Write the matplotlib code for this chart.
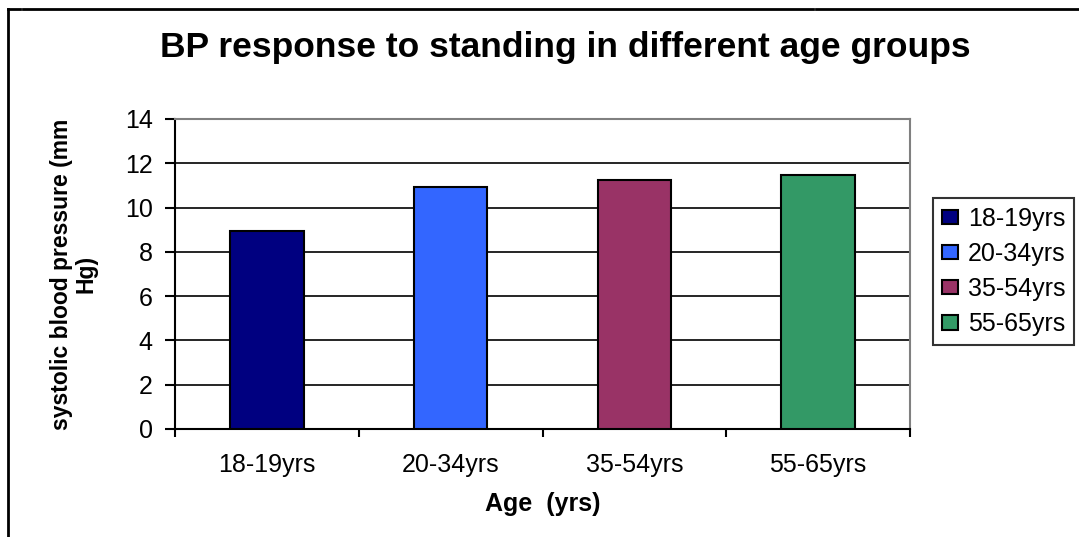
import matplotlib.pyplot as plt
from matplotlib.lines import Line2D
import numpy as np

plt.rcParams['font.family'] = ['Liberation Sans', 'DejaVu Sans']

age_groups = ["18-19yrs", "20-34yrs", "35-54yrs", "55-65yrs"]
bp_rise = [8.95, 10.94, 11.26, 11.49]
bar_colors = ["#000080", "#3366FF", "#993366", "#339966"]
y_ticks = [0, 2, 4, 6, 8, 10, 12, 14]

fig = plt.figure(figsize=(10.79, 5.37), dpi=100)
W, H = 1079, 537
ax = fig.add_axes([175 / W, 1 - 429 / H, (910 - 175) / W, (429 - 119) / H])

x = np.arange(len(age_groups))
bars = ax.bar(x, bp_rise, width=0.4, color=bar_colors, edgecolor="black",
              linewidth=1.5, zorder=3)

ax.set_xlim(-0.5, len(age_groups) - 0.5)
ax.set_ylim(0, 14)
ax.set_yticks(y_ticks)
ax.set_xticks(x)
ax.set_xticklabels(age_groups)
ax.set_xticks(np.arange(-0.5, len(age_groups)), minor=True)
ax.tick_params(axis="x", which="major", length=0, pad=17, labelsize=18)
ax.tick_params(axis="x", which="minor", length=6, width=1.5, direction="out")
ax.tick_params(axis="y", length=7, width=1.5, direction="out", labelsize=18, pad=9)

# gridlines
ax.yaxis.grid(True, color="black", linewidth=1.2, zorder=0)
ax.set_axisbelow(True)

for side in ["top", "right"]:
    ax.spines[side].set_color("#808080")
    ax.spines[side].set_linewidth(1.5)
for side in ["left", "bottom"]:
    ax.spines[side].set_color("black")
    ax.spines[side].set_linewidth(1.5)

ax.set_xlabel("Age  (yrs)", fontsize=18, fontweight="bold", labelpad=11)
ax.set_ylabel("systolic blood pressure (mm\nHg)", fontsize=16.5,
              fontweight="bold", labelpad=20, linespacing=1.05)
fig.text(565 / W, 1 - 47 / H, "BP response to standing in different age groups",
         ha="center", va="center", fontsize=25.5, fontweight="bold")

# legend
leg = fig.legend(bars, age_groups, loc="upper left",
                 bbox_to_anchor=(933 / W, 1 - 198 / H), fontsize=18,
                 frameon=True, fancybox=False, edgecolor="black",
                 handlelength=0.65, handleheight=0.5, handletextpad=0.4,
                 labelspacing=0.45, borderpad=0.35, borderaxespad=0)
leg.get_frame().set_linewidth(1.5)

# outer frame of the surrounding table cell
frame_kw = dict(color="black", linewidth=2, transform=fig.transFigure)
fig.add_artist(Line2D([8 / W, 8 / W], [0, 1 - 9 / H], **frame_kw))
for x0, x1 in [(8, 20), (23, 813), (816, 1079)]:
    fig.add_artist(Line2D([x0 / W, x1 / W], [1 - 9 / H, 1 - 9 / H], **frame_kw))

fig.savefig("out.png", dpi=100)
